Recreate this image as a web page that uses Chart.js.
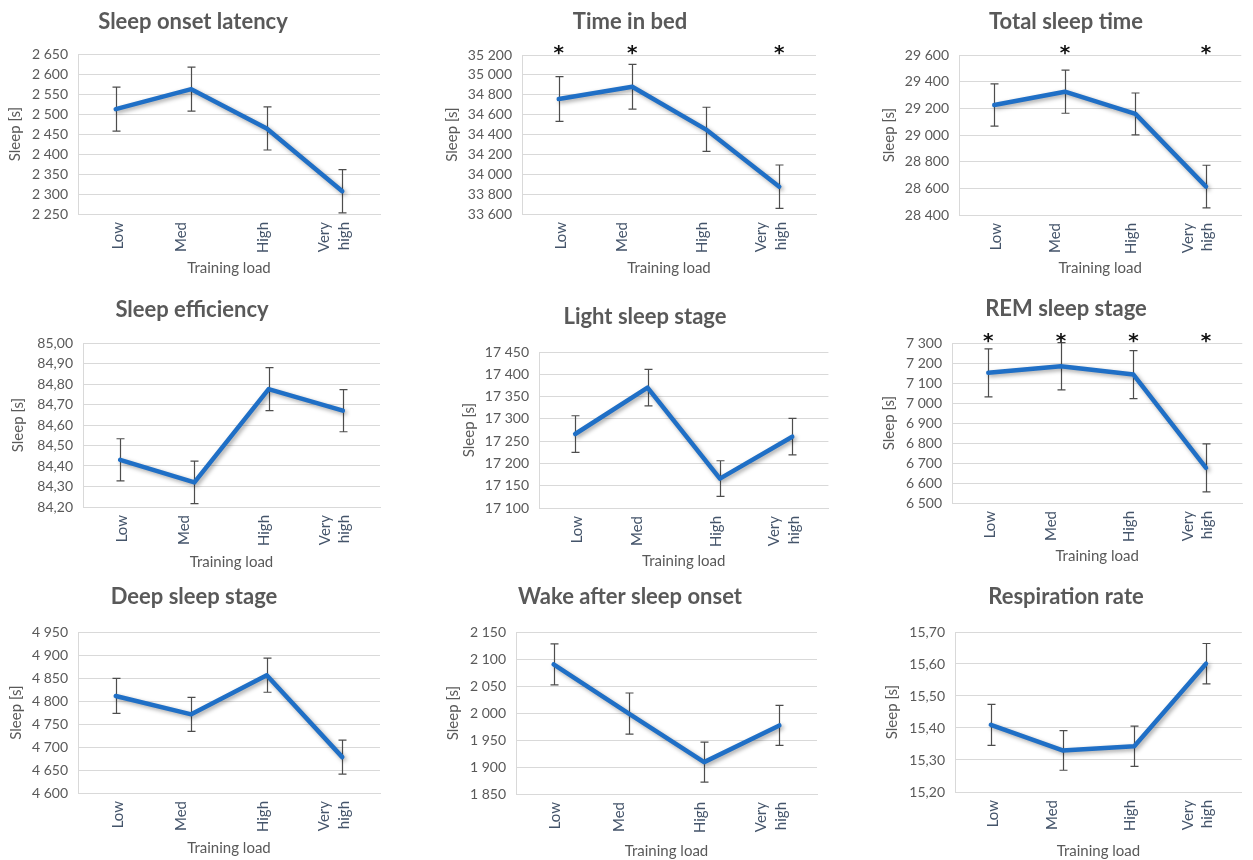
<!DOCTYPE html>
<html>
<head>
<meta charset="utf-8">
<script src="https://cdn.jsdelivr.net/npm/chart.js@4.4.1/dist/chart.umd.min.js"></script>
<style>
  html, body { margin: 0; padding: 0; background: #fff; }
  body { width: 1253px; height: 860px; position: relative; overflow: hidden; }
  canvas { position: absolute; }
</style>
</head>
<body>
<script>
// categories (x axis)
const trainingLoad = ["Low", "Med", "High", ["Very", "high"]];

const titles = ["Sleep onset latency", "Time in bed", "Total sleep time",
  "Sleep efficiency", "Light sleep stage", "REM sleep stage",
  "Deep sleep stage", "Wake after sleep onset", "Respiration rate"];

// means and error bar half-widths
const sleepOnsetLatency = [2512, 2562, 2464, 2307];
const sleepOnsetLatencyErr = [55, 55, 54, 54];
const timeInBed = [34757, 34881, 34452, 33875];
const timeInBedErr = [225, 225, 222, 218];
const totalSleepTime = [29225, 29325, 29158, 28613];
const totalSleepTimeErr = [158, 162, 157, 160];
const sleepEfficiency = [84.43, 84.32, 84.775, 84.67];
const sleepEfficiencyErr = [0.103, 0.104, 0.105, 0.103];
const lightSleep = [17266, 17370, 17166, 17260];
const lightSleepErr = [41, 41, 40, 41];
const remSleep = [7151, 7184, 7142, 6676];
const remSleepErr = [120, 118, 120, 120];
const deepSleep = [4811, 4771, 4856, 4678];
const deepSleepErr = [38, 37, 37, 37];
const wakeAfterOnset = [2090, 1999, 1909, 1977];
const wakeAfterOnsetErr = [38, 38, 37, 37];
const respirationRate = [15.41, 15.33, 15.343, 15.601];
const respirationRateErr = [0.064, 0.062, 0.063, 0.063];

// significance marks (*) per category
const sigNone = [0, 0, 0, 0];
const sigTimeInBed = [1, 1, 0, 1];
const sigTotalSleep = [0, 1, 0, 1];
const sigRem = [1, 1, 1, 1];

// y axis ticks
const yMin = [2250, 33600, 28400, 84.2, 17100, 6500, 4600, 1850, 15.2];
const yMax = [2650, 35200, 29600, 85.0, 17450, 7300, 4950, 2150, 15.7];
const yStep = [50, 200, 200, 0.1, 50, 100, 50, 50, 0.1];
const yDecimals = [0, 0, 0, 2, 0, 0, 0, 0, 2];

const series = [sleepOnsetLatency, timeInBed, totalSleepTime, sleepEfficiency, lightSleep,
  remSleep, deepSleep, wakeAfterOnset, respirationRate];
const errors = [sleepOnsetLatencyErr, timeInBedErr, totalSleepTimeErr, sleepEfficiencyErr,
  lightSleepErr, remSleepErr, deepSleepErr, wakeAfterOnsetErr, respirationRateErr];
const signif = [sigNone, sigTimeInBed, sigTotalSleep, sigNone, sigNone, sigRem, sigNone, sigNone, sigNone];

// panel placement on the page
const layout = [
  { cell: [0, 0, 420, 290], area: [78, 54, 380, 214], title: [193, 22], yTitleX: 15, xTitleY: 268 },
  { cell: [420, 0, 420, 290], area: [522, 55, 816, 214], title: [630, 22], yTitleX: 452, xTitleY: 268 },
  { cell: [840, 0, 413, 290], area: [959, 55, 1253, 215], title: [1066, 22], yTitleX: 889, xTitleY: 268 },
  { cell: [0, 290, 420, 290], area: [83, 343, 380, 507], title: [192, 310], yTitleX: 18, xTitleY: 562 },
  { cell: [420, 290, 420, 290], area: [539, 352, 834, 508], title: [645, 317], yTitleX: 469, xTitleY: 561 },
  { cell: [840, 290, 413, 290], area: [952, 343, 1253, 503], title: [1066, 309], yTitleX: 889, xTitleY: 556 },
  { cell: [0, 580, 420, 280], area: [78, 632, 380, 793], title: [194, 597], yTitleX: 16, xTitleY: 848 },
  { cell: [420, 580, 420, 280], area: [516, 632, 817, 794], title: [630, 597], yTitleX: 453, xTitleY: 853 },
  { cell: [840, 580, 413, 280], area: [955, 632, 1253, 792], title: [1066, 597], yTitleX: 892, xTitleY: 851 }
];
// Excel puts the category labels a bit off their points
const labelShift = [2, -10, -4, -18];

const FONT = "Lato, 'Open Sans', sans-serif";
const GREY = "#595959";

function fmt(v, dec) {
  if (dec > 0) return v.toFixed(dec).replace(".", ",");
  return String(Math.round(v)).replace(/\B(?=(\d{3})+(?!\d))/g, " ");
}

// error bars, asterisks, title
const panelDecor = {
  id: "panelDecor",
  beforeDatasetsDraw(chart, args, opts) {
    const ctx = chart.ctx;
    const x = chart.scales.x, y = chart.scales.y;
    const data = chart.data.datasets[0].data;
    ctx.save();
    ctx.strokeStyle = "#4d4d4d";
    ctx.lineWidth = 1.2;
    data.forEach((v, i) => {
      const px = Math.round(x.getPixelForValue(i)) + 0.5;
      const top = y.getPixelForValue(v + opts.err[i]);
      const bot = y.getPixelForValue(v - opts.err[i]);
      ctx.beginPath();
      ctx.moveTo(px, top); ctx.lineTo(px, bot);
      ctx.moveTo(px - 4, top); ctx.lineTo(px + 4, top);
      ctx.moveTo(px - 4, bot); ctx.lineTo(px + 4, bot);
      ctx.stroke();
    });
    ctx.restore();
  },
  beforeDatasetDraw(chart) {
    const ctx = chart.ctx;
    ctx.save();
    ctx.shadowColor = "rgba(0,0,0,0.35)";
    ctx.shadowBlur = 4;
    ctx.shadowOffsetX = 2;
    ctx.shadowOffsetY = 2;
  },
  afterDatasetDraw(chart) {
    chart.ctx.restore();
  },
  afterDraw(chart, args, opts) {
    const ctx = chart.ctx;
    const x = chart.scales.x;
    ctx.save();
    ctx.fillStyle = GREY;
    ctx.font = "bold 22px " + FONT;
    ctx.textAlign = "center";
    ctx.textBaseline = "middle";
    ctx.fillText(opts.title, opts.titleX, opts.titleY);
    ctx.fillStyle = "#111";
    ctx.font = "bold 20px 'DejaVu Sans', sans-serif";
    ctx.textBaseline = "alphabetic";
    opts.sig.forEach((s, i) => {
      if (!s) return;
      ctx.fillText("*", x.getPixelForValue(i), chart.chartArea.top - 7 + 11);
    });
    ctx.restore();
  }
};

layout.forEach((L, k) => {
  const [cx, cy, cw, ch] = L.cell;
  const [l, t, r, b] = L.area;
  const canvas = document.createElement("canvas");
  canvas.style.left = cx + "px";
  canvas.style.top = cy + "px";
  canvas.style.width = cw + "px";
  canvas.style.height = ch + "px";
  canvas.width = cw;
  canvas.height = ch;
  document.body.appendChild(canvas);

  const yTitleSize = 15, xTitleSize = 15;
  const yW = l - cx;
  const xH = cy + ch - b;

  new Chart(canvas, {
    type: "line",
    data: {
      labels: trainingLoad,
      datasets: [{
        data: series[k],
        borderColor: "#1f6fc6",
        borderWidth: 4.5,
        borderJoinStyle: "round",
        borderCapStyle: "round",
        pointRadius: 0,
        tension: 0,
        fill: false
      }]
    },
    options: {
      responsive: false,
      animation: false,
      devicePixelRatio: 1,
      layout: { padding: { left: 0, top: t - cy, right: cx + cw - r, bottom: 0 } },
      plugins: {
        legend: { display: false },
        tooltip: { enabled: false },
        panelDecor: {
          title: titles[k],
          titleX: L.title[0] - cx,
          titleY: L.title[1] - cy,
          err: errors[k],
          sig: signif[k]
        }
      },
      scales: {
        x: {
          type: "category",
          offset: true,
          grid: { display: false, drawTicks: false },
          border: { display: true, color: "#d9d9d9", width: 1 },
          ticks: {
            autoSkip: false,
            minRotation: 90,
            maxRotation: 90,
            padding: 8,
            color: "#44546a",
            font: { family: FONT, size: 15, lineHeight: 1.3 }
          },
          title: {
            display: true,
            text: "Training load",
            color: GREY,
            font: { family: FONT, size: xTitleSize },
            padding: { top: 0, bottom: Math.max(0, cy + ch - L.xTitleY - xTitleSize * 0.6) }
          },
          afterFit(scale) {
            scale.height = xH;
            if (!scale._shifted) {
              const orig = scale._computeLabelItems;
              scale._computeLabelItems = function (area) {
                const items = orig.call(this, area);
                items.forEach((it, i) => { it.options.translation[0] += labelShift[i]; });
                return items;
              };
              scale._shifted = true;
            }
          }
        },
        y: {
          min: yMin[k],
          max: yMax[k],
          grid: { color: "#d9d9d9", lineWidth: 1, drawTicks: false },
          border: { display: true, color: "#d9d9d9", width: 1 },
          ticks: {
            stepSize: yStep[k],
            padding: 10,
            color: GREY,
            font: { family: FONT, size: 14 },
            callback: (v) => fmt(v, yDecimals[k])
          },
          title: {
            display: true,
            text: "Sleep [s]",
            color: GREY,
            font: { family: FONT, size: yTitleSize },
            padding: { top: Math.max(0, L.yTitleX - cx - yTitleSize * 0.6), bottom: 0 }
          },
          afterFit(scale) { scale.width = yW; }
        }
      }
    },
    plugins: [panelDecor]
  });
});
</script>
</body>
</html>
